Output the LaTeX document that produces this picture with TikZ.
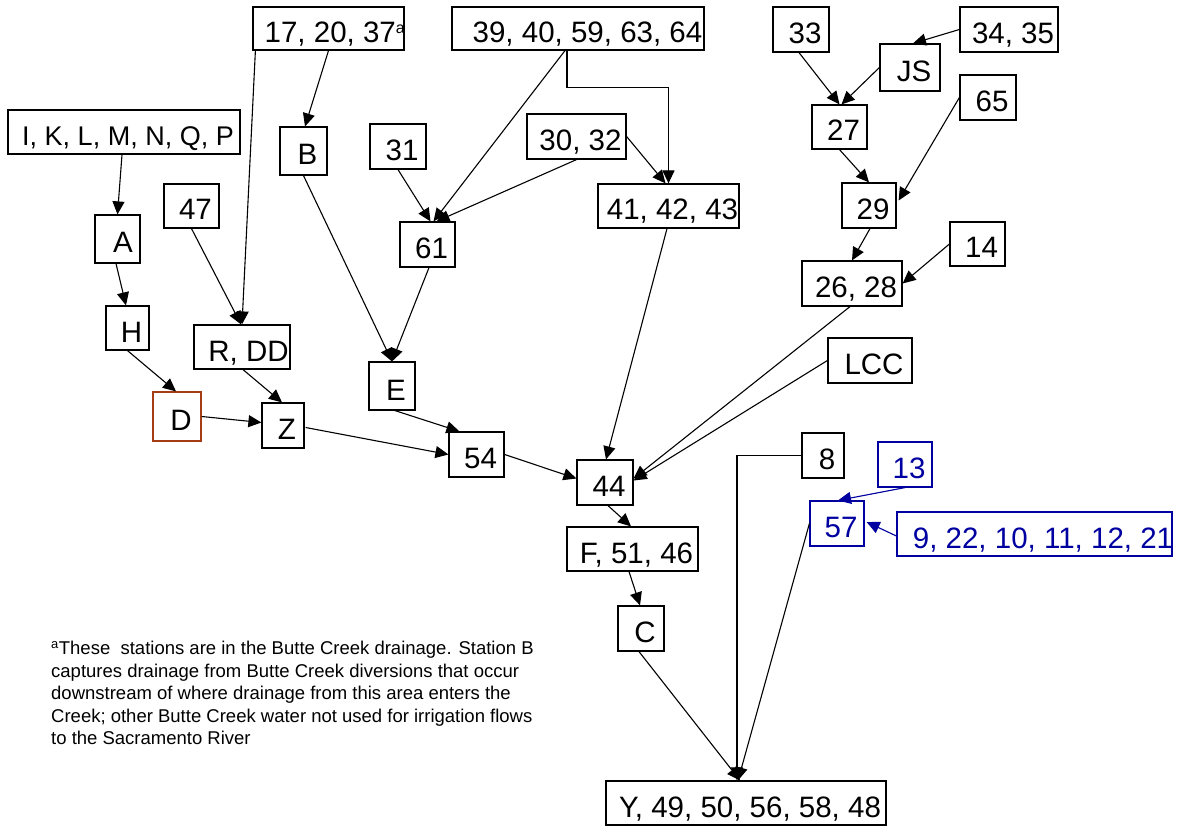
\documentclass[tikz,border=0pt]{standalone}
\usepackage{fontspec}
\setmainfont{Liberation Sans}
\usetikzlibrary{arrows.meta,calc}
\definecolor{dblue}{RGB}{0,0,160}
\definecolor{brn}{RGB}{165,60,20}
\begin{document}
\begin{tikzpicture}[x=1pt,y=-1pt,
  tshift/.style={execute at begin node={\hspace*{#1}\hbox to 0pt\bgroup\hss},
                 execute at end node={\hss\egroup}},
  bx/.style={draw,line width=1.2pt,inner sep=0pt,text height=28pt,text depth=0pt,
    tshift=8pt,font=\fontsize{29.5}{34}\selectfont},
  blu/.style={bx,draw=dblue,text=dblue},
  arr/.style={line width=1.1pt,-{Triangle[length=13pt,width=12pt]}},
  barr/.style={arr,draw=dblue,fill=dblue}]
\useasboundingbox (0,0) rectangle (1177,826);
% nodes
\node[bx,minimum width=232,minimum height=44,tshift=0pt,font=\fontsize{27}{34}\selectfont] (IKL) at (124,132) {I, K, L, M, N, Q, P};
\node[bx,minimum width=45,minimum height=48,tshift=3pt] (A) at (117.5,239) {A};
\node[bx,minimum width=43,minimum height=44] (H) at (127.5,328) {H};
\node[bx,draw=brn,minimum width=48,minimum height=49] (D) at (177,416.5) {D};
\node[bx,minimum width=55,minimum height=44] (n47) at (191.5,206) {47};
\node[bx,minimum width=96,minimum height=44,tshift=5pt] (RDD) at (242,347) {R, DD};
\node[bx,minimum width=42,minimum height=45] (Z) at (283,425.5) {Z};
\node[bx,minimum width=151,minimum height=43,tshift=5pt] (T17) at (328.5,28.5) {17, 20, 37\textsuperscript{\fontsize{16}{16}\selectfont a}};
\node[bx,minimum width=47,minimum height=48] (B) at (303.5,151) {B};
\node[bx,minimum width=56,minimum height=45] (n31) at (398,146.5) {31};
\node[bx,minimum width=55,minimum height=45] (n61) at (427.5,244.5) {61};
\node[bx,minimum width=46,minimum height=48] (E) at (392,386) {E};
\node[bx,minimum width=252,minimum height=43,tshift=11pt] (T39) at (578,28.5) {39, 40, 59, 63, 64};
\node[bx,minimum width=99,minimum height=45] (T30) at (576.5,136.5) {30, 32};
\node[bx,minimum width=141,minimum height=44] (T41) at (668.5,206) {41, 42, 43};
\node[bx,minimum width=55,minimum height=45] (n54) at (476.5,454.5) {54};
\node[bx,minimum width=56,minimum height=45] (n44) at (605,482.5) {44};
\node[bx,minimum width=131,minimum height=44] (F) at (632.5,549) {F, 51, 46};
\node[bx,minimum width=46,minimum height=45] (C) at (641,628.5) {C};
\node[bx,minimum width=280,minimum height=44] (Y) at (746,803) {Y, 49, 50, 56, 58, 48};
\node[bx,minimum width=56,minimum height=45] (n33) at (801,29.5) {33};
\node[bx,minimum width=98,minimum height=45] (T34) at (1009,29.5) {34, 35};
\node[bx,minimum width=60,minimum height=47] (JS) at (910,67.5) {JS};
\node[bx,minimum width=55,minimum height=44] (n27) at (839.5,127) {27};
\node[bx,minimum width=56,minimum height=45] (n65) at (988,97.5) {65};
\node[bx,minimum width=54,minimum height=45] (n29) at (869,205.5) {29};
\node[bx,minimum width=55,minimum height=44] (n14) at (977.5,244) {14};
\node[bx,minimum width=100,minimum height=45] (T26) at (852,283.5) {26, 28};
\node[bx,minimum width=84,minimum height=45] (LCC) at (870,360.5) {LCC};
\node[bx,minimum width=42,minimum height=45] (n8) at (823,455.5) {8};
\node[blu,minimum width=54,minimum height=45] (n13) at (905,464.5) {13};
\node[blu,minimum width=54,minimum height=45] (n57) at (837,523.5) {57};
\node[blu,minimum width=275,minimum height=44,tshift=9pt] (T9) at (1034.5,534) {9, 22, 10, 11, 12, 21};
\node[anchor=north west,align=left,inner sep=0pt,font=\fontsize{18.5}{22.5}\selectfont] (note) at (51,641)
 {\textsuperscript{a}These\ \ stations are in the Butte Creek drainage. Station B\\
  captures drainage from Butte Creek diversions that occur\\
  downstream of where drainage from this area enters the\\
  Creek; other Butte Creek water not used for irrigation flows\\
  to the Sacramento River};
% connectors
\draw[arr] ($(IKL.south)+(-2,0)$) -- (A.north);
\draw[arr] ($(A.south)+(-1.5,0)$) -- ($(H.north)+(-1.5,0)$);
\draw[arr] (H.south) -- ($(D.north)+(-1,0)$);
\draw[arr] (n47.south) -- ($(RDD.north)+(-1,0)$);
\draw[arr] ($(T17.south west)+(3,0)$) -- (RDD.north);
\draw[arr] (T17.south) -- ($(B.north)+(1.5,0)$);
\draw[arr] ($(RDD.south)+(1,0)$) -- ($(Z.north)+(-1,0)$);
\draw[arr] (D.east) -- ($(Z.west)+(0,-3)$);
\draw[arr] (B.south) -- (E.north);
\draw[arr] (n31.south) -- ($(n61.north)+(3,0)$);
\draw[arr] ($(T39.south)+(-13,0)$) -- ($(n61.north)+(6,0)$);
\draw[arr] (T30.south) -- ($(n61.north)+(9,0)$);
\draw[arr] ($(n61.south)+(1.5,0)$) -- (E.north);
\draw[arr] ($(T39.south)+(-11,0)$) -- ++(0,37) -| (T41.north);
\draw[arr] (T30.east) -- ($(T41.north)+(-3,0)$);
\draw[arr] ($(T41.south)+(-1.5,0)$) -- ($(n44.north)+(1,0)$);
\draw[arr] ($(T26.south)+(-2,0)$) -- ($(n44.east)+(0,-4)$);
\draw[arr] (LCC.west) -- ($(n44.east)+(0,-2)$);
\draw[arr] ($(E.south)+(3,0)$) -- ($(n54.north west)+(11,0)$);
\draw[arr] ($(Z.east)+(1,2)$) -- ($(n54.west)+(0,0)$);
\draw[arr] (n54.east) -- ($(n44.west)+(0,-4)$);
\draw[arr] ($(n44.south)+(3,0)$) -- ($(F.north)+(-1.5,0)$);
\draw[arr] ($(F.south)+(-3.5,0)$) -- ($(C.north)+(-1,0)$);
\draw[arr] ($(C.south)+(-2,0)$) -- ($(Y.north)+(-6,0)$);
\draw[arr] (n8.west) -| ($(Y.north)+(-9,0)$);
\draw[arr] (n57.west) -- ($(Y.north)+(-8,0)$);
\draw[arr] ($(n33.south)+(-2,0)$) -- (n27.north);
\draw[arr] (T34.west) -- ($(JS.north)+(3,0)$);
\draw[arr] (JS.west) -- ($(n27.north)+(2,0)$);
\draw[arr] (n27.south) -- (n29.north);
\draw[arr] (n65.west) -- ($(n29.east)+(2,-5)$);
\draw[arr] ($(n29.south)+(1,0)$) -- (T26.north);
\draw[arr] (n14.west) -- (T26.east);
\draw[barr] (n13.south) -- ($(n57.north)+(1,0)$);
\draw[barr] ($(T9.west)+(0,2)$) -- ($(n57.east)+(2,-1.5)$);
\end{tikzpicture}
\end{document}
